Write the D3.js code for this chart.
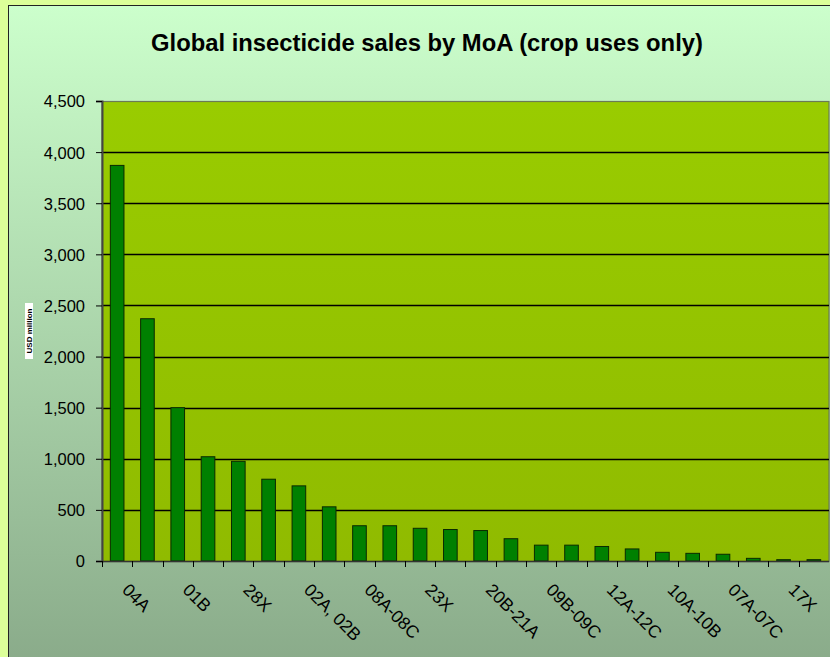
<!DOCTYPE html>
<html>
<head>
<meta charset="utf-8">
<script src="https://cdn.jsdelivr.net/npm/d3@7"></script>
<style>
  html, body { margin: 0; padding: 0; background: #dcff99; overflow: hidden; }
  svg { display: block; }
</style>
</head>
<body>
<script>
const categories = ["04A","03A","01B","06","28X","01A","02A, 02B","05","08A-08C","16","23X","22A-22B","20B-21A","15","09B-09C","13","12A-12C","18","10A-10B","14","07A-07C","11A","17X","19"];
const sales = [3870, 2370, 1500, 1020, 975, 800, 735, 530, 345, 345, 320, 308, 298, 218, 155, 155, 142, 118, 85, 75, 66, 26, 13, 13];
const yTicks = [0, 500, 1000, 1500, 2000, 2500, 3000, 3500, 4000, 4500];
const title = "Global insecticide sales by MoA (crop uses only)";
const yLabel = "USD million";

const FONT = "'Liberation Sans', Arial, sans-serif";
const W = 830, H = 657;
const svg = d3.select("body").append("svg").attr("width", W).attr("height", H);
const defs = svg.append("defs");

const g1 = defs.append("linearGradient").attr("id", "panelGrad").attr("x1", 0).attr("y1", 0).attr("x2", 0).attr("y2", 1);
g1.append("stop").attr("offset", "0%").attr("stop-color", "#ccffcc");
g1.append("stop").attr("offset", "100%").attr("stop-color", "#8aab8a");

const g2 = defs.append("linearGradient").attr("id", "plotGrad").attr("x1", 0).attr("y1", 0).attr("x2", 0).attr("y2", 1);
g2.append("stop").attr("offset", "0%").attr("stop-color", "#99cc00");
g2.append("stop").attr("offset", "100%").attr("stop-color", "#90bb00");

// outer panel
svg.append("rect").attr("x", 8.5).attr("y", 5.5).attr("width", W).attr("height", H)
  .attr("fill", "url(#panelGrad)").attr("stroke", "#222").attr("stroke-width", 1);

const m = { left: 102, top: 101, right: 829, bottom: 561 };

const x = d3.scaleBand().domain(categories).range([m.left, m.right]).paddingInner(0.55).paddingOuter(0.275);
const y = d3.scaleLinear().domain([0, 4500]).range([m.bottom, m.top]);

// plot background
svg.append("rect").attr("x", m.left).attr("y", m.top + 0.5).attr("width", m.right - m.left).attr("height", m.bottom - m.top)
  .attr("fill", "url(#plotGrad)").attr("stroke", "#6b7a55").attr("stroke-width", 1.2);

// gridlines
svg.append("g").selectAll("line").data(yTicks.filter(d => d > 0 && d < 4500)).join("line")
  .attr("x1", m.left).attr("x2", m.right)
  .attr("y1", d => Math.round(y(d)) + 0.5).attr("y2", d => Math.round(y(d)) + 0.5)
  .attr("stroke", "#000").attr("stroke-width", 1.3);

// bars
svg.append("g").selectAll("rect").data(sales).join("rect")
  .attr("x", (d, i) => x(categories[i]))
  .attr("y", d => y(d))
  .attr("width", x.bandwidth())
  .attr("height", d => y(0) - y(d))
  .attr("fill", "#008000").attr("stroke", "#0a2a00").attr("stroke-width", 1);

// y axis
const yAxis = d3.axisLeft(y).tickValues(yTicks).tickSize(6).tickPadding(11).tickFormat(d3.format(","));
const ya = svg.append("g").attr("transform", `translate(${m.left},0)`).call(yAxis);
ya.select(".domain").attr("stroke", "#444").attr("stroke-width", 2);
ya.selectAll(".tick line").attr("stroke", "#000");
ya.selectAll(".tick text").attr("font-family", FONT).attr("font-size", 16.5).attr("fill", "#000").attr("dy", "0.36em");

// x axis: ticks at category boundaries
const xa = svg.append("g").attr("transform", `translate(0,${m.bottom})`);
xa.append("line").attr("x1", m.left).attr("x2", m.right).attr("y1", 0.5).attr("y2", 0.5).attr("stroke", "#333").attr("stroke-width", 1.5);
const step = x.step();
xa.selectAll(".xt").data(categories).join("line").attr("class", "xt")
  .attr("x1", d => Math.round(x(d) - step * 0.275) + 0.5)
  .attr("x2", d => Math.round(x(d) - step * 0.275) + 0.5)
  .attr("y1", 0).attr("y2", 6).attr("stroke", "#000");

xa.selectAll(".xl").data(categories.filter((d, i) => i % 2 === 0)).join("text").attr("class", "xl")
  .attr("transform", d => `translate(${x(d) + x.bandwidth() / 2 + 4},${30}) rotate(45)`)
  .attr("font-family", FONT).attr("font-size", 17.5).attr("fill", "#000")
  .text(d => d);

// title
svg.append("text").attr("x", 427).attr("y", 51).attr("text-anchor", "middle")
  .attr("font-family", FONT).attr("font-weight", "bold").attr("font-size", 23.8)
  .text(title);

// y label
svg.append("rect").attr("x", 25).attr("y", 303).attr("width", 8).attr("height", 56).attr("fill", "#fff");
svg.append("text").attr("transform", "translate(31.5,331) rotate(-90)").attr("text-anchor", "middle")
  .attr("font-family", FONT).attr("font-weight", "bold").attr("font-size", 8)
  .text(yLabel);
</script>
</body>
</html>
